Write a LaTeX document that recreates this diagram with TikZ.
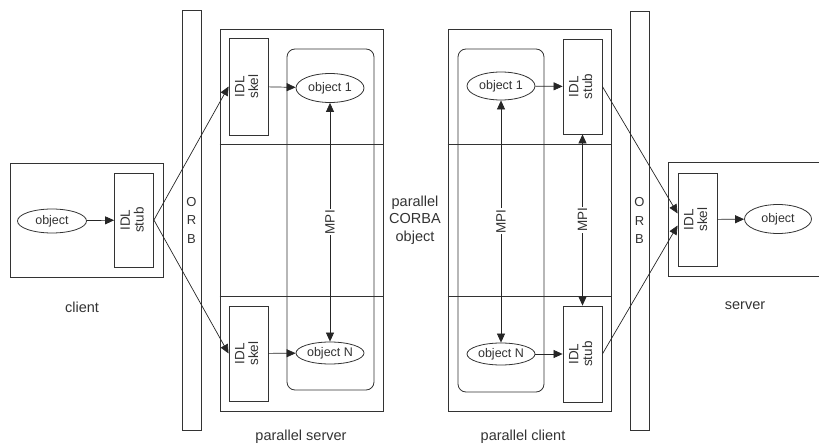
\documentclass[tikz,border=0pt]{standalone}
\usepackage{fontspec}
\setmainfont{Liberation Sans}
\usetikzlibrary{shapes.geometric,arrows.meta}
\begin{document}
\begin{tikzpicture}[
		x=1pt, y=-1pt,
		font=\fontsize{12.5}{15}\selectfont, text=black!80,
		box/.style = {rectangle, draw=black!80, line width=0.8pt, inner sep=0pt},
		idl/.style = {box, minimum width=39, align=center, font=\fontsize{13.5}{13}\selectfont},
		obj/.style = {ellipse, draw=black!80, line width=0.8pt, inner sep=0pt, minimum width=68},
		grp/.style = {box, rounded corners=8pt},
		lbl/.style = {font=\fontsize{14.5}{17.5}\selectfont, align=center},
		r/.style = {-{Triangle[length=9pt,width=8pt]}, draw=black!85, line width=0.7pt},
		rr/.style = {{Triangle[length=9pt,width=8pt]}-{Triangle[length=9pt,width=8pt]}, draw=black!85, line width=0.7pt},
		mpi/.style = {fill=white, rotate=90, inner sep=1pt, font=\fontsize{13.5}{15}\selectfont},
		]
		\useasboundingbox (0,0) rectangle (819,446);
		
		%Nodes
		\node[box, minimum width=153, minimum height=114]	(cli)	at	(86.5, 220)	{};
		\node[idl, minimum height=94]	(cstub)	at	(134, 220)	{\rotatebox{90}{\begin{tabular}{@{}c@{}}IDL\\stub\end{tabular}}};
		\node[obj, minimum width=69, minimum height=24]	(cobj)	at	(52, 221)	{object};
		\node[box, minimum width=19, minimum height=420, align=center, font=\fontsize{13}{18.5}\selectfont]	(orb1)	at	(191.5, 220)	{O\\R\\B};
		
		\node[box, minimum width=163, minimum height=382]	(psrv)	at	(301.5, 220)	{};
		\node[idl, minimum height=97]	(sk1)	at	(248.5, 86.5)	{\rotatebox{90}{\begin{tabular}{@{}c@{}}IDL\\skel\end{tabular}}};
		\node[idl, minimum height=95]	(sk2)	at	(248.5, 353.5)	{\rotatebox{90}{\begin{tabular}{@{}c@{}}IDL\\skel\end{tabular}}};
		\node[grp, minimum width=87, minimum height=341]	(sgrp)	at	(330.5, 219.5)	{};
		\node[obj, minimum height=29, fill=white]	(so1)	at	(330, 88)	{object 1};
		\node[obj, minimum height=22, fill=white]	(soN)	at	(330, 353)	{object N};
		
		\node[box, minimum width=163, minimum height=382]	(pcli)	at	(529.5, 220)	{};
		\node[grp, minimum width=86, minimum height=343]	(cgrp)	at	(501, 220.5)	{};
		\node[obj, minimum height=28, fill=white]	(co1)	at	(501, 86)	{object 1};
		\node[obj, minimum height=22, fill=white]	(coN)	at	(501, 354)	{object N};
		\node[idl, minimum height=95]	(st1)	at	(582.5, 86.5)	{\rotatebox{90}{\begin{tabular}{@{}c@{}}IDL\\stub\end{tabular}}};
		\node[idl, minimum height=96]	(st2)	at	(582.5, 354)	{\rotatebox{90}{\begin{tabular}{@{}c@{}}IDL\\stub\end{tabular}}};
		\node[box, minimum width=19, minimum height=419, align=center, font=\fontsize{13}{18.5}\selectfont]	(orb2)	at	(639.5, 220.5)	{O\\R\\B};
		
		\node[box, minimum width=154, minimum height=114]	(srv)	at	(745, 219)	{};
		\node[idl, minimum height=93]	(sskel)	at	(697.5, 219.5)	{\rotatebox{90}{\begin{tabular}{@{}c@{}}IDL\\skel\end{tabular}}};
		\node[obj, minimum width=67, minimum height=29]	(sobj)	at	(778, 219)	{object};
		
		%Labels
		\node[lbl]	(lcli)	at	(82, 307)	{client};
		\node[lbl]	(lsrv)	at	(745, 306)	{server};
		\node[lbl]	(lpsrv)	at	(301, 437)	{parallel server};
		\node[lbl]	(lpcli)	at	(523, 437)	{parallel client};
		\node[lbl]	(lpco)	at	(415, 220)	{parallel\\CORBA\\object};
		
		%Rows
		\draw[black!80, line width=0.8pt]	(psrv.west |- 0,144) -- (psrv.east |- 0,144)
			(psrv.west |- 0,296) -- (psrv.east |- 0,296);
		\draw[black!80, line width=0.8pt]	(pcli.west |- 0,144) -- (pcli.east |- 0,144)
			(pcli.west |- 0,296) -- (pcli.east |- 0,296);
		
		%Lines
		\draw[r]	(cobj)	--	(cstub);
		\draw[r]	(cstub.east)	--	(sk1.west);
		\draw[r]	(cstub.east)	--	(sk2.west);
		\draw[r]	(sk1)	--	(so1);
		\draw[r]	(sk2)	--	(soN);
		\draw[rr]	(so1)	--	node[mpi]	{MPI}	(soN);
		\draw[r]	(co1)	--	(st1);
		\draw[r]	(coN)	--	(st2);
		\draw[rr]	(co1)	--	node[mpi]	{MPI}	(coN);
		\draw[rr]	(st1)	--	node[mpi]	{MPI}	(st2);
		\draw[r]	(st1.east)	--	([yshift=6pt]sskel.west);
		\draw[r]	(st2.east)	--	([yshift=-6pt]sskel.west);
		\draw[r]	(sskel)	--	(sobj);
		
	\end{tikzpicture}
\end{document}
